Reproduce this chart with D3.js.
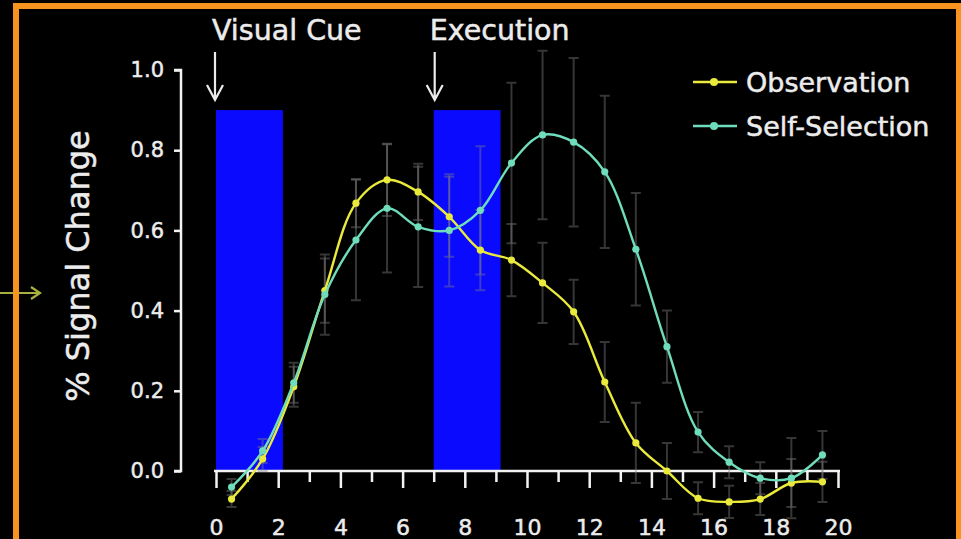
<!DOCTYPE html>
<html><head><meta charset="utf-8">
<script src="https://cdn.jsdelivr.net/npm/d3@7"></script>
<style>html,body{margin:0;padding:0;background:#000;}svg{display:block;}</style>
</head><body>
<script>
// ---- data ----
const timePoints = [0.5,1.5,2.5,3.5,4.5,5.5,6.5,7.5,8.5,9.5,10.5,11.5,12.5,13.5,14.5,15.5,16.5,17.5,18.5,19.5];
const observation = [-0.07,0.03,0.21,0.45,0.668,0.726,0.696,0.634,0.551,0.526,0.469,0.397,0.222,0.07,0.0,-0.068,-0.077,-0.07,-0.03,-0.027];
const observationErr = [0.02,0.03,0.05,0.08,0.06,0.09,0.07,0.1,0.1,0.09,0.1,0.08,0.1,0.1,0.07,0.04,0.04,0.04,0.06,0.05];
const selfSelection = [-0.04,0.05,0.22,0.44,0.576,0.655,0.609,0.60,0.65,0.768,0.838,0.82,0.746,0.553,0.31,0.097,0.022,-0.018,-0.018,0.04];
const selfSelectionErr = [0.02,0.03,0.05,0.1,0.15,0.16,0.15,0.14,0.16,0.2,0.21,0.21,0.19,0.14,0.09,0.05,0.04,0.04,0.1,0.06];
const seriesNames = ["Observation","Self-Selection"];
const blocks = [{label:"Visual Cue", start:0, end:2.15, top:0.9}, {label:"Execution", start:7, end:9.15, top:0.9}];
const xTicks = d3.range(0,21,1);
const xTickLabels = [0,2,4,6,8,10,12,14,16,18,20];
const yTicks = [0,0.2,0.4,0.6,0.8,1.0];

const W = 961, H = 539;
const colors = {obs:"#eaea3c", self:"#6fdcbc", axis:"#f2f2f2", text:"#ececec", bar:"#0a0aff", err:"#808080", frame:"#f7941d"};
const font = "DejaVu Sans, Verdana, sans-serif";

const svg = d3.select("body").append("svg").attr("width",W).attr("height",H);
svg.append("rect").attr("width",W).attr("height",H).attr("fill","#000");

const x = d3.scaleLinear().domain([0,20]).range([216,838]);
const y = d3.scaleLinear().domain([0,1]).range([471,70]);

function thick(sel){ return sel.attr("stroke",colors.text).attr("stroke-width",0.5); }

// blue blocks
svg.selectAll("rect.block").data(blocks).enter().append("rect")
  .attr("class","block")
  .attr("x",d=>x(d.start)).attr("width",d=>x(d.end)-x(d.start))
  .attr("y",d=>y(d.top)).attr("height",d=>y(0)-y(d.top))
  .attr("fill",colors.bar);

// block labels and arrows
thick(svg.selectAll("text.blabel").data(blocks).enter().append("text")
  .attr("x",d=>x(d.start)-4).attr("y",40)
  .attr("fill",colors.text).attr("font-family",font).attr("font-size",28.5)
  .text(d=>d.label));
svg.selectAll("path.barrow").data(blocks).enter().append("path")
  .attr("d",d=>{const cx=x(d.start)+(d.start===0?-1:1); return `M${cx},52 L${cx},100 M${cx-8},85 L${cx},100 L${cx+8},85`;})
  .attr("stroke",colors.text).attr("stroke-width",2.2).attr("fill","none");

// y axis
const yAxis = d3.axisLeft(y).tickValues(yTicks).tickFormat(d3.format(".1f")).tickSize(7).tickPadding(10);
const gy = svg.append("g").attr("transform","translate(181,0)").call(yAxis);
gy.select(".domain").attr("stroke",colors.axis).attr("stroke-width",2.5).attr("d",`M-7,${y(1)}H0V${y(0)}H-7`);
gy.selectAll(".tick line").attr("stroke",colors.axis).attr("stroke-width",2.5);
thick(gy.selectAll(".tick text").attr("fill",colors.text).attr("font-family",font).attr("font-size",21));

// x axis
const xAxis = d3.axisBottom(x).tickValues(xTicks).tickFormat(d=>xTickLabels.includes(d)?d:"").tickSize(0);
const gx = svg.append("g").attr("transform",`translate(0,${y(0)})`).call(xAxis);
gx.select(".domain").attr("stroke",colors.axis).attr("stroke-width",2.5).attr("d",`M${x(0)-2},0H${x(20)+2}`);
gx.selectAll(".tick line").attr("stroke",colors.axis).attr("stroke-width",2.5).attr("y2",d=>d%2===0?17:11);
thick(gx.selectAll(".tick text").attr("fill",colors.text).attr("font-family",font).attr("font-size",22).attr("y",64).attr("dy",0));

// y title
thick(svg.append("text").attr("transform","translate(89,266) rotate(-90)")
  .attr("text-anchor","middle").attr("fill",colors.text).attr("font-family",font).attr("font-size",32)
  .text("% Signal Change"));

// series
const series = [
  {name:seriesNames[0], vals:observation, err:observationErr, color:colors.obs},
  {name:seriesNames[1], vals:selfSelection, err:selfSelectionErr, color:colors.self}
];
// error bars
series.forEach(s=>{
  const g = svg.append("g");
  timePoints.forEach((t,i)=>{
    const cx = x(t), y1 = y(s.vals[i]+s.err[i]), y2 = y(s.vals[i]-s.err[i]);
    g.append("path").attr("d",`M${cx},${y1}V${y2}M${cx-5},${y1}H${cx+5}M${cx-5},${y2}H${cx+5}`)
      .attr("stroke",colors.err).attr("stroke-width",2).attr("fill","none").attr("opacity",0.42);
  });
});
const line = d3.line().x((d,i)=>x(timePoints[i])).y(d=>y(d)).curve(d3.curveCatmullRom.alpha(0.5));
series.forEach(s=>{
  svg.append("path").attr("d",line(s.vals)).attr("stroke",s.color).attr("stroke-width",2.4).attr("fill","none");
  svg.append("g").selectAll("circle").data(s.vals).enter().append("circle")
    .attr("cx",(d,i)=>x(timePoints[i])).attr("cy",d=>y(d)).attr("r",3.6).attr("fill",s.color);
});

// legend
const lg = svg.append("g");
series.forEach((s,i)=>{
  const ly = 82 + i*44;
  lg.append("line").attr("x1",693).attr("x2",737).attr("y1",ly).attr("y2",ly).attr("stroke",s.color).attr("stroke-width",2.4);
  lg.append("circle").attr("cx",714).attr("cy",ly).attr("r",4).attr("fill",s.color);
  thick(lg.append("text").attr("x",746).attr("y",ly+10).attr("fill",colors.text).attr("font-family",font).attr("font-size",27).text(s.name));
});

// small arrow at left
svg.append("path").attr("d","M0,293 L40,293 M31,287 L40,293 L31,299")
  .attr("stroke","#a8b040").attr("stroke-width",2.2).attr("fill","none");

// orange frame
svg.append("rect").attr("x",16).attr("y",6).attr("width",943).attr("height",560)
  .attr("fill","none").attr("stroke",colors.frame).attr("stroke-width",6);
</script>
</body></html>
